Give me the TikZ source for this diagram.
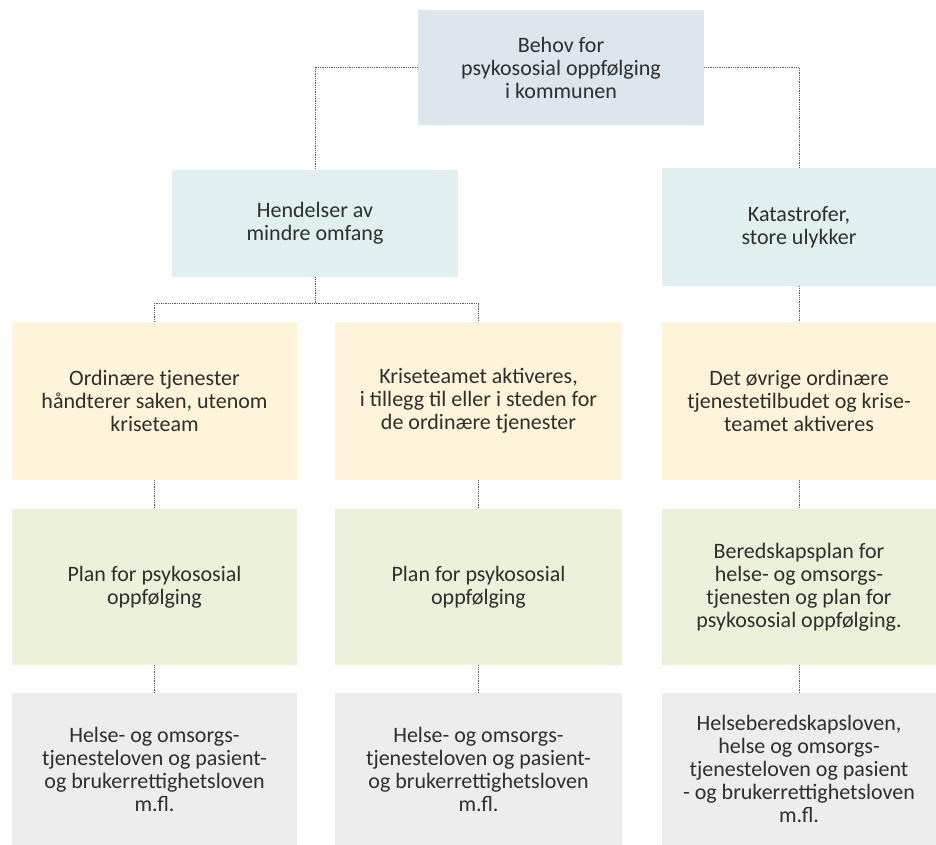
\documentclass[tikz,border=0pt]{standalone}
\usepackage{fontspec}
\setmainfont{Carlito}
\definecolor{toppfarge}{HTML}{DCE6EC}
\definecolor{blafarge}{HTML}{E0EFEF}
\definecolor{gulfarge}{HTML}{FDF4DA}
\definecolor{gronnfarge}{HTML}{ECF1DA}
\definecolor{grafarge}{HTML}{EDEDED}
\definecolor{tekstfarge}{HTML}{2E2E2E}
\tikzset{
	boks/.style={inner sep=4pt, align=center, text=tekstfarge, font=\fontsize{22}{23}\selectfont},
	toppboks/.style={boks, fill=toppfarge, minimum width=286pt, minimum height=115pt},
	blaboks/.style={boks, fill=blafarge, minimum height=107pt},
	gulboks/.style={boks, fill=gulfarge, minimum height=158pt},
	gronnboks/.style={boks, fill=gronnfarge, minimum height=156pt},
	graboks/.style={boks, fill=grafarge, minimum height=152pt},
	forbindelse/.style={densely dotted, gray!70!black, line width=0.8pt}
}
\begin{document}
\begin{tikzpicture}[x=1pt, y=-1pt]
	\useasboundingbox (0,0) rectangle (936,845);
	% top level
	\node[toppboks] (behov) at (561,67.5) {Behov for\\psykososial oppfølging\\i kommunen};
	\node[blaboks, minimum width=286pt] (hendelser) at (315,223.5) {Hendelser av\\mindre omfang};
	\node[blaboks, minimum width=274pt, minimum height=118pt] (katastrofer) at (799,227) {Katastrofer,\\store ulykker};
	
	% yellow row
	\node[gulboks, minimum width=285pt] (ordinaer) at (154.5,401) {Ordinære tjenester\\håndterer saken, utenom\\kriseteam};
	\node[gulboks, minimum width=287pt] (kriseteam) at (478.5,401) {Kriseteamet aktiveres,\\i tillegg til eller i steden for\\de ordinære tjenester};
	\node[gulboks, minimum width=274pt] (ovrige) at (799,401) {Det øvrige ordinære\\tjenestetilbudet og krise-\\teamet aktiveres};
	
	% green row
	\node[gronnboks, minimum width=285pt] (plana) at (154.5,587) {Plan for psykososial\\oppfølging};
	\node[gronnboks, minimum width=287pt] (planb) at (478.5,587) {Plan for psykososial\\oppfølging};
	\node[gronnboks, minimum width=274pt] (planc) at (799,587) {Beredskapsplan for\\helse- og omsorgs-\\tjenesten og plan for\\psykososial oppfølging.};
	
	% grey row
	\node[graboks, minimum width=285pt] (lova) at (154.5,769) {Helse- og omsorgs-\\tjenesteloven og pasient-\\og brukerrettighetsloven\\m.fl.};
	\node[graboks, minimum width=287pt] (lovb) at (478.5,769) {Helse- og omsorgs-\\tjenesteloven og pasient-\\og brukerrettighetsloven\\m.fl.};
	\node[graboks, minimum width=274pt] (lovc) at (799,769) {Helseberedskapsloven,\\helse og omsorgs-\\tjenesteloven og pasient\\- og brukerrettighetsloven\\m.fl.};
	
	% dotted connectors
	\draw[forbindelse] (behov.west) -| (hendelser.north);
	\draw[forbindelse] (behov.east) -| (katastrofer.north);
	\coordinate (deling) at (315,303);
	\draw[forbindelse] (hendelser.south) -- (deling);
	\draw[forbindelse] (ordinaer.north) |- (deling) -| (kriseteam.north);
	\draw[forbindelse] (katastrofer.south) -- (ovrige.north);
	\foreach \a/\b in {ordinaer/plana, kriseteam/planb, ovrige/planc, plana/lova, planb/lovb, planc/lovc} {
		\draw[forbindelse] (\a.south) -- (\b.north);
	}
\end{tikzpicture}
\end{document}
